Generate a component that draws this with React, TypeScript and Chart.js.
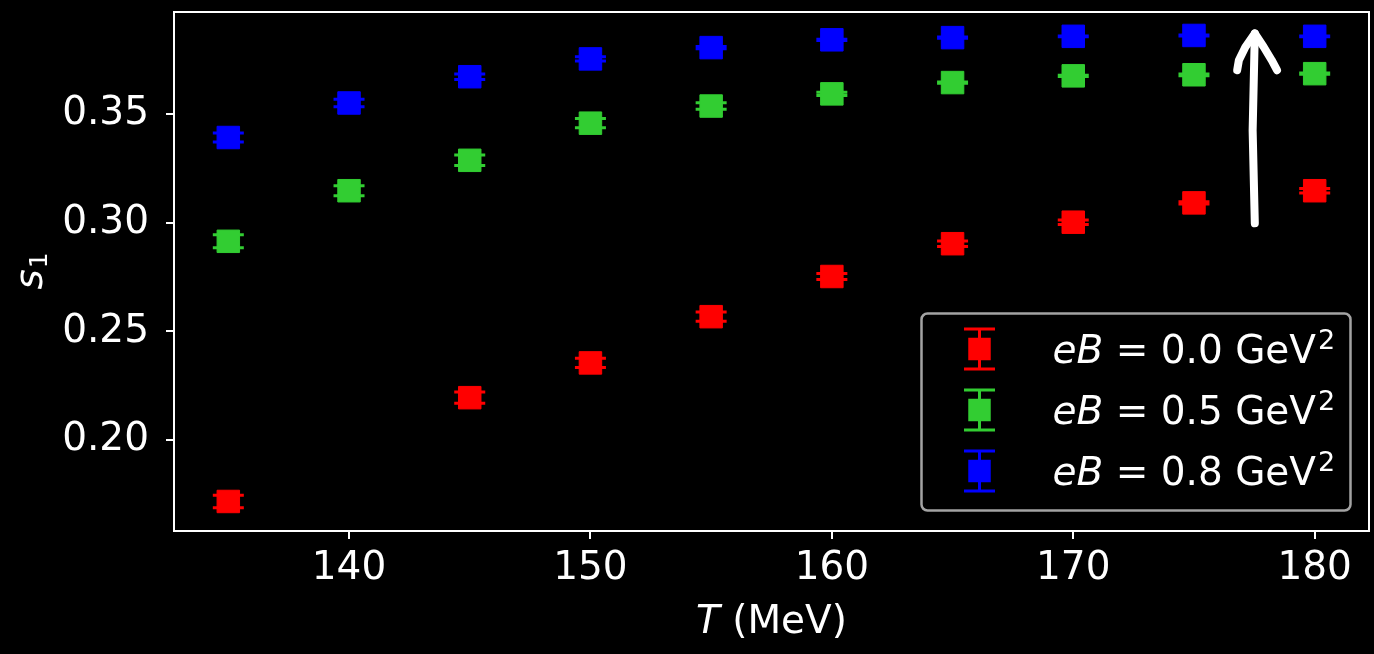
import React, { useEffect, useRef } from "react";
import { Chart, registerables } from "chart.js";

Chart.register(...registerables);

// ---------------- data ----------------
const temperatures = [135, 140, 145, 150, 155, 160, 165, 170, 175, 180];

const s1EB00 = [0.1717, null, 0.2195, 0.2355, 0.2568, 0.2753, 0.2904, 0.3003, 0.3092, 0.3148];
const s1EB00Err = [0.0029, null, 0.0026, 0.0021, 0.0021, 0.0014, 0.0013, 0.001, 0.0005, 0.001];

const s1EB05 = [0.2915, 0.3148, 0.3288, 0.3459, 0.3538, 0.3594, 0.3646, 0.3677, 0.3682, 0.3687];
const s1EB05Err = [0.003, 0.0023, 0.0024, 0.0021, 0.0015, 0.0008, 0.0003, 0.0003, 0.0004, 0.0003];

const s1EB08 = [0.3393, 0.3552, 0.3673, 0.3755, 0.3807, 0.3843, 0.3853, 0.3859, 0.3863, 0.3859];
const s1EB08Err = [0.0021, 0.0017, 0.0013, 0.001, 0.0005, 0.0003, 0.0003, 0.0002, 0.0002, 0.0002];

const eBValues = ["0.0", "0.5", "0.8"];
const seriesColors = ["#ff0000", "#32cd32", "#0000ff"];

const xTicks = [140, 150, 160, 170, 180];
const yTicks = [0.2, 0.25, 0.3, 0.35];
const xRange = [132.75, 182.25];
const yRange = [0.1581, 0.3971];

// hand-drawn arrow annotation (data coordinates)
const arrowShaftT = [177.52, 177.43, 177.52];
const arrowShaftS = [0.2998, 0.3426, 0.3872];
const arrowHeadT = [176.79, 176.86, 177.13, 177.52, 177.89, 178.22, 178.44];
const arrowHeadS = [0.3703, 0.3749, 0.381, 0.3872, 0.381, 0.3749, 0.3703];

// ---------------- styling ----------------
const FONT = "'DejaVu Sans', sans-serif";
const TICK_SIZE = 39;
const LEGEND_SIZE = 39;
const MARKER_R = 15.9;
const CAP_HALF = 15.5;
const AREA = { left: 174, top: 12, right: 1369, bottom: 531 };

const makePoints = (vals: (number | null)[], errs: (number | null)[]) =>
  temperatures
    .map((t, i) => (vals[i] == null ? null : { x: t, y: vals[i] as number, err: errs[i] ?? 0 }))
    .filter((p) => p !== null);

const seriesValues = [s1EB00, s1EB05, s1EB08];
const seriesErrors = [s1EB00Err, s1EB05Err, s1EB08Err];

const bgPlugin = {
  id: "bg",
  beforeDraw(chart: any) {
    const c = chart.ctx;
    c.save();
    c.fillStyle = "#000";
    c.fillRect(0, 0, chart.width, chart.height);
    c.restore();
  },
};

const errPlugin = {
  id: "errbars",
  beforeDatasetsDraw(chart: any) {
    const { ctx, scales } = chart;
    const x = scales.x;
    const y = scales.y;
    chart.data.datasets.forEach((ds: any) => {
      ctx.save();
      ctx.strokeStyle = ds.borderColor;
      ctx.lineWidth = 3;
      ds.data.forEach((p: any) => {
        const px = x.getPixelForValue(p.x);
        const yt = y.getPixelForValue(p.y + p.err);
        const yb = y.getPixelForValue(p.y - p.err);
        ctx.beginPath();
        ctx.moveTo(px, yt);
        ctx.lineTo(px, yb);
        ctx.moveTo(px - CAP_HALF, yt);
        ctx.lineTo(px + CAP_HALF, yt);
        ctx.moveTo(px - CAP_HALF, yb);
        ctx.lineTo(px + CAP_HALF, yb);
        ctx.stroke();
      });
      ctx.restore();
    });
  },
};

const arrowPlugin = {
  id: "arrow",
  afterDatasetsDraw(chart: any) {
    const { ctx, scales } = chart;
    const x = scales.x;
    const y = scales.y;
    ctx.save();
    ctx.strokeStyle = "#ffffff";
    ctx.lineWidth = 8;
    ctx.lineCap = "round";
    ctx.lineJoin = "round";
    const path = (ts: number[], ss: number[]) => {
      ctx.beginPath();
      ts.forEach((t, i) => {
        const px = x.getPixelForValue(t);
        const py = y.getPixelForValue(ss[i]);
        if (i === 0) ctx.moveTo(px, py);
        else ctx.lineTo(px, py);
      });
      ctx.stroke();
    };
    path(arrowShaftT, arrowShaftS);
    path(arrowHeadT, arrowHeadS);
    ctx.restore();
  },
};

const decorPlugin = {
  id: "decor",
  afterDraw(chart: any) {
    const { ctx, chartArea } = chart;
    const { left, right, top, bottom } = chartArea;
    ctx.save();
    // frame
    ctx.strokeStyle = "#ffffff";
    ctx.lineWidth = 2;
    ctx.strokeRect(left, top, right - left, bottom - top);

    ctx.fillStyle = "#ffffff";
    ctx.textBaseline = "alphabetic";
    ctx.textAlign = "left";

    // x title: T (MeV)
    {
      const cx = (left + right) / 2;
      const base = bottom + 102;
      ctx.font = `italic ${TICK_SIZE}px ${FONT}`;
      const w1 = ctx.measureText("T").width;
      ctx.font = `${TICK_SIZE}px ${FONT}`;
      const w2 = ctx.measureText(" (MeV)").width;
      const sx = cx - (w1 + w2) / 2;
      ctx.font = `italic ${TICK_SIZE}px ${FONT}`;
      ctx.fillText("T", sx, base);
      ctx.font = `${TICK_SIZE}px ${FONT}`;
      ctx.fillText(" (MeV)", sx + w1, base);
    }

    // y title: s_1
    {
      const cy = (top + bottom) / 2;
      ctx.save();
      ctx.translate(42, cy);
      ctx.rotate(-Math.PI / 2);
      ctx.font = `italic ${TICK_SIZE}px ${FONT}`;
      const w1 = ctx.measureText("s").width;
      ctx.font = `25px ${FONT}`;
      const w2 = ctx.measureText("1").width;
      const sx = -(w1 + w2) / 2;
      ctx.font = `italic ${TICK_SIZE}px ${FONT}`;
      ctx.fillText("s", sx, 0);
      ctx.font = `25px ${FONT}`;
      ctx.fillText("1", sx + w1 + 1, 5);
      ctx.restore();
    }

    // legend
    {
      const bw = 429;
      const bh = 197;
      const bx = right - 18.5 - bw;
      const by = bottom - 20.5 - bh;
      ctx.beginPath();
      if ((ctx as any).roundRect) (ctx as any).roundRect(bx, by, bw, bh, 6);
      else ctx.rect(bx, by, bw, bh);
      ctx.fillStyle = "#000";
      ctx.fill();
      ctx.strokeStyle = "#a3a3a3";
      ctx.lineWidth = 2.5;
      ctx.stroke();

      eBValues.forEach((v, i) => {
        const cyRow = by + 35.5 + i * 61;
        const mx = bx + 58;
        const col = seriesColors[i];
        // marker with error bar
        ctx.strokeStyle = col;
        ctx.lineWidth = 3;
        ctx.beginPath();
        ctx.moveTo(mx, cyRow - 20);
        ctx.lineTo(mx, cyRow + 20);
        ctx.moveTo(mx - CAP_HALF, cyRow - 20);
        ctx.lineTo(mx + CAP_HALF, cyRow - 20);
        ctx.moveTo(mx - CAP_HALF, cyRow + 20);
        ctx.lineTo(mx + CAP_HALF, cyRow + 20);
        ctx.stroke();
        const half = MARKER_R * Math.SQRT1_2;
        ctx.fillStyle = col;
        ctx.fillRect(mx - half, cyRow - half, 2 * half, 2 * half);

        // text
        const base = cyRow + 13.8;
        let tx = bx + 131;
        ctx.fillStyle = "#ffffff";
        ctx.font = `italic ${LEGEND_SIZE}px ${FONT}`;
        ctx.fillText("eB", tx, base);
        tx += ctx.measureText("eB").width;
        ctx.font = `${LEGEND_SIZE}px ${FONT}`;
        const mid = ` = ${v} GeV`;
        ctx.fillText(mid, tx, base);
        tx += ctx.measureText(mid).width + 2;
        ctx.font = `27px ${FONT}`;
        ctx.fillText("2", tx, base - 14);
      });
    }
    ctx.restore();
  },
};

export default function App() {
  const ref = useRef<HTMLCanvasElement>(null);

  useEffect(() => {
    document.body.style.margin = "0";
    document.body.style.background = "#000";
    document.body.style.overflow = "hidden";
    const canvas = ref.current;
    if (!canvas) return;

    const datasets = seriesValues.map((vals, i) => ({
      label: `eB = ${eBValues[i]} GeV^2`,
      data: makePoints(vals, seriesErrors[i]),
      backgroundColor: seriesColors[i],
      borderColor: seriesColors[i],
      pointStyle: "rect",
      pointRadius: MARKER_R,
      pointHoverRadius: MARKER_R,
      pointBorderWidth: 1,
      showLine: false,
    }));

    const axisCommon = {
      type: "linear",
      grid: {
        display: true,
        drawOnChartArea: false,
        drawTicks: true,
        tickLength: 8,
        color: "#ffffff",
        lineWidth: 2,
      },
      border: { display: false },
    };

    const chart = new Chart(canvas, {
      type: "scatter",
      data: { datasets } as any,
      plugins: [bgPlugin, errPlugin, arrowPlugin, decorPlugin],
      options: {
        animation: false,
        responsive: false,
        maintainAspectRatio: false,
        events: [],
        layout: {
          autoPadding: false,
          padding: { top: AREA.top, right: 1374 - AREA.right, left: 0, bottom: 0 },
        },
        plugins: {
          legend: { display: false },
          tooltip: { enabled: false },
        },
        scales: {
          x: {
            ...axisCommon,
            min: xRange[0],
            max: xRange[1],
            afterBuildTicks: (s: any) => {
              s.ticks = xTicks.map((v) => ({ value: v }));
            },
            afterFit: (s: any) => {
              s.height = 654 - AREA.bottom;
              s.paddingLeft = 0;
              s.paddingRight = 0;
              s.paddingTop = 0;
              s.paddingBottom = 0;
            },
            ticks: {
              color: "#ffffff",
              font: { size: TICK_SIZE, family: FONT },
              padding: 6,
              maxRotation: 0,
              autoSkip: false,
              callback: (v: any) => String(v),
            },
          },
          y: {
            ...axisCommon,
            min: yRange[0],
            max: yRange[1],
            afterBuildTicks: (s: any) => {
              s.ticks = yTicks.map((v) => ({ value: v }));
            },
            afterFit: (s: any) => {
              s.width = AREA.left;
              s.paddingLeft = 0;
              s.paddingRight = 0;
              s.paddingTop = 0;
              s.paddingBottom = 0;
            },
            ticks: {
              color: "#ffffff",
              font: { size: TICK_SIZE, family: FONT },
              padding: 17,
              autoSkip: false,
              callback: (v: any) => Number(v).toFixed(2),
            },
          },
        },
      } as any,
    });

    return () => chart.destroy();
  }, []);

  return (
    <div style={{ position: "absolute", left: 0, top: 0, width: 1374, height: 654, background: "#000" }}>
      <canvas ref={ref} width={1374} height={654} style={{ display: "block", width: 1374, height: 654 }} />
    </div>
  );
}
